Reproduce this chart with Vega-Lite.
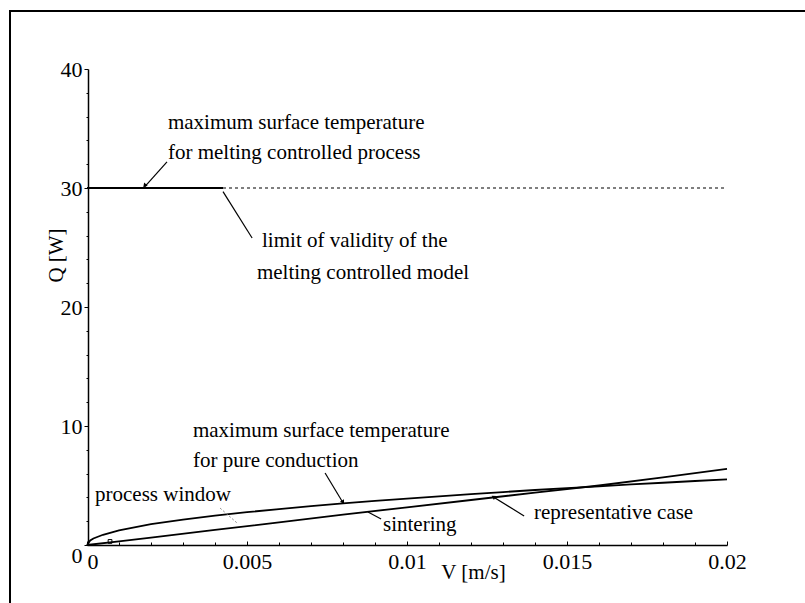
{
  "$schema": "https://vega.github.io/schema/vega-lite/v6.json",
  "width": 800,
  "height": 600,
  "autosize": {"type": "none"},
  "padding": {"left": 10, "top": 11, "right": 0, "bottom": 0},
  "background": "white",
  "config": {
    "view": {"stroke": "black", "strokeWidth": 2},
    "font": "Liberation Serif",
    "axis": {"grid": false, "labelOverlap": false, "domainColor": "black", "tickColor": "black", "labelColor": "black", "titleColor": "black", "labelFont": "Liberation Serif", "titleFont": "Liberation Serif", "titleFontWeight": "normal", "labelFontSize": 22, "titleFontSize": 21}
  },
  "title": {"text": "Figure 6", "anchor": "end", "frame": "group", "offset": 5, "dy": 4, "baseline": "alphabetic", "font": "Liberation Serif", "fontSize": 21, "fontWeight": "normal", "color": "black", "dx": -4},
  "resolve": {"axis": {"x": "independent", "y": "independent"}},
  "datasets": {
    "curves": [
      {"series": "conduction", "V": 0, "Q": 0},
      {"series": "conduction", "V": 0.0001, "Q": 0.38},
      {"series": "conduction", "V": 0.0002, "Q": 0.55},
      {"series": "conduction", "V": 0.0005, "Q": 0.86},
      {"series": "conduction", "V": 0.001, "Q": 1.22},
      {"series": "conduction", "V": 0.002, "Q": 1.75},
      {"series": "conduction", "V": 0.003, "Q": 2.13},
      {"series": "conduction", "V": 0.004, "Q": 2.47},
      {"series": "conduction", "V": 0.005, "Q": 2.76},
      {"series": "conduction", "V": 0.006, "Q": 3.02},
      {"series": "conduction", "V": 0.007, "Q": 3.27},
      {"series": "conduction", "V": 0.008, "Q": 3.49},
      {"series": "conduction", "V": 0.009, "Q": 3.7},
      {"series": "conduction", "V": 0.01, "Q": 3.9},
      {"series": "conduction", "V": 0.011, "Q": 4.09},
      {"series": "conduction", "V": 0.012, "Q": 4.28},
      {"series": "conduction", "V": 0.013, "Q": 4.45},
      {"series": "conduction", "V": 0.014, "Q": 4.62},
      {"series": "conduction", "V": 0.015, "Q": 4.78},
      {"series": "conduction", "V": 0.016, "Q": 4.93},
      {"series": "conduction", "V": 0.017, "Q": 5.09},
      {"series": "conduction", "V": 0.018, "Q": 5.23},
      {"series": "conduction", "V": 0.019, "Q": 5.38},
      {"series": "conduction", "V": 0.02, "Q": 5.52},
      {"series": "sintering", "V": 0, "Q": 0},
      {"series": "sintering", "V": 0.001, "Q": 0.3},
      {"series": "sintering", "V": 0.002, "Q": 0.62},
      {"series": "sintering", "V": 0.004, "Q": 1.27},
      {"series": "sintering", "V": 0.006, "Q": 1.9},
      {"series": "sintering", "V": 0.008, "Q": 2.55},
      {"series": "sintering", "V": 0.01, "Q": 3.17},
      {"series": "sintering", "V": 0.012, "Q": 3.78},
      {"series": "sintering", "V": 0.014, "Q": 4.4},
      {"series": "sintering", "V": 0.016, "Q": 5.0},
      {"series": "sintering", "V": 0.018, "Q": 5.68},
      {"series": "sintering", "V": 0.02, "Q": 6.4},
      {"series": "melting", "V": 0, "Q": 30},
      {"series": "melting", "V": 0.00425, "Q": 30}
    ],
    "dashed": [
      {"series": "melting limit", "V": 0.00425, "Q": 30},
      {"series": "melting limit", "V": 0.02, "Q": 30}
    ],
    "leaders": [
      {"id": "melt", "V": 0.0025, "Q": 32.2, "V2": 0.0018, "Q2": 30.1},
      {"id": "limit", "V": 0.00425, "Q": 29.7, "V2": 0.00516, "Q2": 25.8},
      {"id": "cond", "V": 0.00744, "Q": 6.05, "V2": 0.008, "Q2": 3.55},
      {"id": "sinter", "V": 0.00878, "Q": 2.77, "V2": 0.00919, "Q2": 2.18},
      {"id": "repr", "V": 0.01366, "Q": 2.44, "V2": 0.0127, "Q2": 4.04}
    ],
    "faint": [
      {"id": "window", "V": 0.00416, "Q": 3.1, "V2": 0.00469, "Q2": 1.85}
    ],
    "heads": [
      {"id": "melt", "V": 0.0018, "Q": 30.2},
      {"id": "cond", "V": 0.008, "Q": 3.6},
      {"id": "repr", "V": 0.0127, "Q": 4.04}
    ],
    "marker": [
      {"V": 0.00072, "Q": 0.3}
    ],
    "labels": [
      {"text": "maximum surface temperature", "V": 0.00253, "Q": 35.46},
      {"text": "for melting controlled process", "V": 0.00253, "Q": 32.94},
      {"text": "limit of validity of the", "V": 0.00547, "Q": 25.55},
      {"text": "melting controlled model", "V": 0.00531, "Q": 22.86},
      {"text": "maximum surface temperature", "V": 0.00331, "Q": 9.58},
      {"text": "for pure conduction", "V": 0.00331, "Q": 7.06},
      {"text": "process window", "V": 0.00025, "Q": 4.2},
      {"text": "sintering", "V": 0.00925, "Q": 1.68},
      {"text": "representative case", "V": 0.01397, "Q": 2.69}
    ]
  },
  "layer": [
    {
      "data": {"name": "curves"},
      "mark": {"type": "line", "color": "black", "strokeWidth": 1.8},
      "encoding": {
        "x": {
          "field": "V", "type": "quantitative",
          "scale": {"domain": [0, 0.02], "range": [77, 717], "nice": false, "zero": false},
          "axis": {
            "title": "V [m/s]",
            "orient": "bottom",
            "offset": -66,
            "domainWidth": 1.5,
            "labelOverlap": false,
            "values": [0, 0.005, 0.01, 0.015, 0.02],
            "labelExpr": "'' + datum.value",
            "labelAlign": {"condition": {"test": "datum.value === 0", "value": "left"}, "value": "center"},
            "labelFlush": false,
            "tickSize": -4,
            "labelPadding": 10,
            "labelBaseline": "top",
            "titleX": 463,
            "titleY": 27,
            "titleAlign": "center",
            "titleBaseline": "middle"
          }
        },
        "y": {
          "field": "Q", "type": "quantitative",
          "scale": {"domain": [0, 40], "range": [534, 58], "nice": false, "zero": false},
          "axis": {
            "title": "Q [W]",
            "orient": "left",
            "offset": -78,
            "domainWidth": 1.5,
            "labelOverlap": false,
            "values": [0, 10, 20, 30, 40],
            "labelExpr": "'' + datum.value",
            "labelOffset": {"condition": {"test": "datum.value === 0", "value": 10}, "value": 0},
            "tickSize": 4,
            "labelPadding": 2,
            "titleX": -32,
            "titleY": 244,
            "titleAngle": -90,
            "titleAlign": "center",
            "titleBaseline": "middle"
          }
        },
        "detail": {"field": "series", "type": "nominal"}
      }
    },
    {
      "data": {"name": "dashed"},
      "mark": {"type": "line", "color": "black", "strokeWidth": 1.2, "strokeDash": [3, 3]},
      "encoding": {
        "x": {
          "field": "V", "type": "quantitative",
          "axis": {
            "orient": "bottom",
            "offset": -66,
            "domain": false,
            "labels": false,
            "title": null,
            "values": [0.001, 0.002, 0.003, 0.004, 0.006, 0.007, 0.008, 0.009, 0.011, 0.012, 0.013, 0.014, 0.016, 0.017, 0.018, 0.019],
            "tickSize": -3
          }
        },
        "y": {
          "field": "Q", "type": "quantitative",
          "axis": {
            "orient": "left",
            "offset": -78,
            "domain": false,
            "labels": false,
            "title": null,
            "values": [2, 4, 6, 8, 12, 14, 16, 18, 22, 24, 26, 28, 32, 34, 36, 38],
            "tickSize": 2
          }
        }
      }
    },
    {
      "data": {"name": "leaders"},
      "mark": {"type": "rule", "color": "black", "strokeWidth": 1.2},
      "encoding": {
        "x": {"field": "V", "type": "quantitative", "axis": null},
        "y": {"field": "Q", "type": "quantitative", "axis": null},
        "x2": {"field": "V2"},
        "y2": {"field": "Q2"}
      }
    },
    {
      "data": {"name": "faint"},
      "mark": {"type": "rule", "color": "#888888", "strokeWidth": 1, "strokeDash": [2, 2]},
      "encoding": {
        "x": {"field": "V", "type": "quantitative", "axis": null},
        "y": {"field": "Q", "type": "quantitative", "axis": null},
        "x2": {"field": "V2"},
        "y2": {"field": "Q2"}
      }
    },
    {
      "data": {"name": "heads"},
      "transform": [{"filter": "datum.id === 'melt'"}],
      "mark": {"type": "point", "shape": "triangle-up", "filled": true, "color": "black", "size": 22, "angle": 221, "opacity": 1},
      "encoding": {
        "x": {"field": "V", "type": "quantitative", "axis": null},
        "y": {"field": "Q", "type": "quantitative", "axis": null}
      }
    },
    {
      "data": {"name": "heads"},
      "transform": [{"filter": "datum.id === 'cond'"}],
      "mark": {"type": "point", "shape": "triangle-up", "filled": true, "color": "black", "size": 22, "angle": 149, "opacity": 1},
      "encoding": {
        "x": {"field": "V", "type": "quantitative", "axis": null},
        "y": {"field": "Q", "type": "quantitative", "axis": null}
      }
    },
    {
      "data": {"name": "heads"},
      "transform": [{"filter": "datum.id === 'repr'"}],
      "mark": {"type": "point", "shape": "triangle-up", "filled": true, "color": "black", "size": 22, "angle": 302, "opacity": 1},
      "encoding": {
        "x": {"field": "V", "type": "quantitative", "axis": null},
        "y": {"field": "Q", "type": "quantitative", "axis": null}
      }
    },
    {
      "data": {"name": "marker"},
      "mark": {"type": "point", "shape": "square", "filled": false, "color": "black", "size": 14, "strokeWidth": 1, "opacity": 1},
      "encoding": {
        "x": {"field": "V", "type": "quantitative", "axis": null},
        "y": {"field": "Q", "type": "quantitative", "axis": null}
      }
    },
    {
      "data": {"name": "labels"},
      "mark": {"type": "text", "align": "left", "baseline": "middle", "font": "Liberation Serif", "fontSize": 21, "color": "black"},
      "encoding": {
        "x": {"field": "V", "type": "quantitative", "axis": null},
        "y": {"field": "Q", "type": "quantitative", "axis": null},
        "text": {"field": "text", "type": "nominal"}
      }
    }
  ]
}
